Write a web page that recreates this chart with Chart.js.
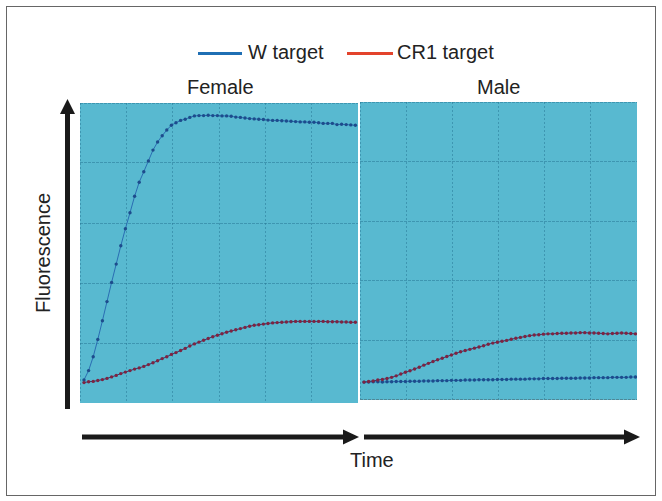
<!DOCTYPE html>
<html>
<head>
<meta charset="utf-8">
<script src="https://cdn.jsdelivr.net/npm/chart.js@4"></script>
<style>
  body { margin: 0; background: #fff; font-family: "Liberation Sans", Arial, sans-serif; color: #222; }
  #frame { position: absolute; left: 6px; top: 6px; width: 648px; height: 488px; border: 1.5px solid #666; }
  .lbl { position: absolute; font-size: 20px; line-height: 20px; white-space: nowrap; }
  .key { position: absolute; height: 3px; }
  canvas { position: absolute; }
  svg { position: absolute; left: 0; top: 0; }
</style>
</head>
<body>
<div id="frame"></div>

<div class="key" style="left:198px; top:52px; width:44px; background:#1f6fb4;"></div>
<div class="lbl" style="left:248px; top:42px;">W target</div>
<div class="key" style="left:347px; top:52px; width:46px; background:#e3432c;"></div>
<div class="lbl" style="left:397px; top:42px;">CR1 target</div>
<div class="lbl" style="left:187px; top:77px;">Female</div>
<div class="lbl" style="left:477px; top:77px;">Male</div>
<div class="lbl" style="left:-17px; top:243px; width:120px; text-align:center; transform: rotate(-90deg);">Fluorescence</div>
<div class="lbl" style="left:350px; top:450px;">Time</div>

<svg width="662" height="501">
  <rect x="65" y="112" width="5" height="297" fill="#1a1a1a"/>
  <polygon points="67.5,99 60,114 75,114" fill="#1a1a1a"/>
  <rect x="82" y="434.5" width="262" height="5" fill="#1a1a1a"/>
  <polygon points="359,437 343,429.5 343,444.5" fill="#1a1a1a"/>
  <rect x="364" y="434.5" width="262" height="5" fill="#1a1a1a"/>
  <polygon points="640,437 624,429.5 624,444.5" fill="#1a1a1a"/>
</svg>

<canvas id="female" width="278" height="300" style="left:80px; top:103px;"></canvas>
<canvas id="male" width="277" height="298" style="left:360px; top:102px;"></canvas>

<script>
const cycles = Array.from({ length: 60 }, (_, i) => i);

const femaleW = [7.7,10.8,15.4,21.2,27.4,33.8,40.2,46.3,52.4,58.1,
  63.4,68.9,73.6,77.1,80.7,84.3,87.0,89.1,91.0,92.6,
  93.4,94.2,94.6,95.2,95.7,95.8,95.8,95.9,95.8,95.8,
  95.7,95.7,95.6,95.3,95.2,95.0,94.8,94.7,94.6,94.5,
  94.3,94.2,94.2,94.1,94.0,93.9,93.8,93.7,93.7,93.6,
  93.6,93.4,93.2,93.2,93.2,92.8,92.9,92.8,92.7,92.6];

const femaleCR1 = [6.8,7.1,7.2,7.5,7.8,8.2,8.7,9.2,9.8,10.3,
  10.8,11.3,11.7,12.2,12.8,13.4,14.1,14.8,15.4,16.2,
  16.8,17.5,18.2,19.0,19.7,20.3,20.9,21.5,22.1,22.6,
  23.1,23.6,24.0,24.4,24.8,25.2,25.6,25.9,26.1,26.3,
  26.5,26.7,26.8,26.9,27.0,27.1,27.2,27.2,27.2,27.2,
  27.2,27.2,27.2,27.1,27.1,27.1,27.0,27.0,26.9,26.9];

const maleW = [6.0,6.0,6.1,6.1,6.0,6.1,6.1,6.2,6.2,6.2,
  6.3,6.3,6.3,6.4,6.4,6.4,6.5,6.5,6.5,6.6,
  6.6,6.6,6.7,6.7,6.7,6.8,6.8,6.8,6.8,6.9,
  6.9,6.9,7.0,7.0,7.0,7.0,7.1,7.1,7.1,7.2,
  7.2,7.2,7.2,7.3,7.3,7.3,7.3,7.4,7.4,7.4,
  7.5,7.5,7.5,7.5,7.6,7.6,7.6,7.6,7.7,7.7];

const maleCR1 = [6.0,6.2,6.4,6.7,6.9,7.2,7.6,8.1,8.7,9.3,
  9.8,10.4,11.0,11.7,12.3,12.9,13.5,14.0,14.6,15.1,
  15.7,16.2,16.6,17.0,17.4,17.8,18.2,18.7,19.1,19.4,
  19.7,20.0,20.4,20.7,21.0,21.3,21.6,21.8,21.9,22.1,
  22.2,22.2,22.3,22.4,22.4,22.5,22.5,22.6,22.6,22.5,
  22.5,22.4,22.3,22.2,22.3,22.4,22.5,22.4,22.3,22.2];

const panelBg = {
  id: 'panelBg',
  beforeDraw(chart) {
    const { ctx, chartArea: a } = chart;
    ctx.save();
    ctx.fillStyle = '#58b9d0';
    ctx.fillRect(a.left, a.top, a.right - a.left, a.bottom - a.top);
    ctx.restore();
  }
};

function series(values, line, dot) {
  return {
    data: cycles.map((c, i) => ({ x: c, y: values[i] })),
    borderColor: line,
    borderWidth: 1,
    pointRadius: 1.7,
    pointBorderWidth: 0,
    pointBackgroundColor: dot,
    tension: 0
  };
}

function renderPanel(id, w, cr1, xMax, bottomLine) {
  const xMin = -0.87;
  new Chart(document.getElementById(id), {
    type: 'line',
    data: {
      datasets: [
        series(cr1, '#3a3a6a', '#7d2442'),
        series(w, '#2a6db3', '#1d4c8c')
      ]
    },
    options: {
      responsive: false,
      animation: false,
      layout: { padding: 0, autoPadding: false },
      plugins: { legend: { display: false }, tooltip: { enabled: false } },
      scales: {
        x: {
          type: 'linear', min: xMin, max: xMax,
          afterBuildTicks: s => {
            s.ticks = [0, 1, 2, 3, 4, 5, 6].map(k => ({ value: xMin + k * (xMax - xMin) / 6 }));
          },
          ticks: { display: false },
          border: { display: false, dash: [2, 2] },
          grid: { color: 'rgba(35,115,145,0.5)', lineWidth: 1, drawTicks: false }
        },
        y: {
          min: 0, max: 100,
          ticks: { display: false, stepSize: 20 },
          border: { display: false, dash: [3, 1] },
          grid: {
            color: ctx => (bottomLine && ctx.tick.value === 0) ? '#4f8797' : 'rgba(35,115,145,0.5)',
            lineWidth: ctx => (bottomLine && ctx.tick.value === 0) ? 3 : 1,
            drawTicks: false
          }
        }
      }
    },
    plugins: [panelBg]
  });
}

renderPanel('female', femaleW, femaleCR1, 59.57, false);
renderPanel('male', maleW, maleCR1, 59.35, true);
</script>
</body>
</html>
